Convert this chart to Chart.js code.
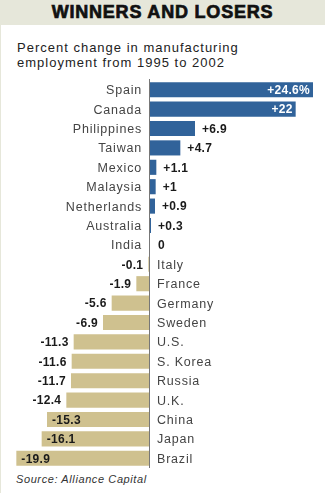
<!DOCTYPE html>
<html>
<head>
<meta charset="utf-8">
<script src="https://cdn.jsdelivr.net/npm/chart.js@4"></script>
<style>
html, body { margin: 0; padding: 0; background: #fff; }
body { width: 325px; height: 493px; position: relative; overflow: hidden; font-family: "Liberation Sans", Arial, sans-serif; }
#band { position: absolute; left: 0; top: 0; width: 325px; height: 25px; background: #e6e7da; }
#title { position: absolute; left: 0; top: 2px; width: 325px; text-align: center; font-size: 18px; font-weight: bold; color: #111; letter-spacing: 0.8px; -webkit-text-stroke: 0.7px #111; }
#edge { position: absolute; left: 0; top: 25px; width: 1px; height: 468px; background: #e6e7da; }
#sub { position: absolute; left: 17px; top: 40px; font-size: 13px; line-height: 15px; color: #222; letter-spacing: 1px; }
#src { position: absolute; left: 16px; top: 473px; font-size: 11px; font-style: italic; color: #333; letter-spacing: 0.6px; }
#wrap { position: absolute; left: 0; top: 0; width: 325px; height: 493px; }
</style>
</head>
<body>
<div id="band"></div>
<div id="title">WINNERS AND LOSERS</div>
<div id="edge"></div>
<div id="sub">Percent change in manufacturing<br>employment from 1995 to 2002</div>
<div id="src">Source: Alliance Capital</div>
<div id="wrap"><canvas id="barChart"></canvas></div>
<script>
var countries = ["Spain", "Canada", "Philippines", "Taiwan", "Mexico", "Malaysia", "Netherlands", "Australia", "India",
	"Italy", "France", "Germany", "Sweden", "U.S.", "S. Korea", "Russia", "U.K.", "China", "Japan", "Brazil"];
var changes = [24.6, 22, 6.9, 4.7, 1.1, 1, 0.9, 0.3, 0,
	-0.1, -1.9, -5.6, -6.9, -11.3, -11.6, -11.7, -12.4, -15.3, -16.1, -19.9];
var valueLabels = ["+24.6%", "+22", "+6.9", "+4.7", "+1.1", "+1", "+0.9", "+0.3", "0",
	"-0.1", "-1.9", "-5.6", "-6.9", "-11.3", "-11.6", "-11.7", "-12.4", "-15.3", "-16.1", "-19.9"];

var blue = '#31639a', tan = '#cfc18f';

// labels drawn beside the zero line, plus the value labels
var labelPlugin = {
	id: 'labels',
	afterDatasetsDraw: function(chart) {
		var c = chart.ctx, xs = chart.scales.x, ys = chart.scales.y;
		var x0 = xs.getPixelForValue(0);
		c.save();
		c.strokeStyle = '#777';
		c.lineWidth = 1;
		c.beginPath();
		c.moveTo(Math.round(x0) + 0.5, chart.chartArea.top - 1);
		c.lineTo(Math.round(x0) + 0.5, chart.chartArea.bottom);
		c.stroke();
		c.textBaseline = 'middle';
		for (var i = 0; i < countries.length; i++) {
			var v = changes[i], y = ys.getPixelForValue(i) + 1, xe = xs.getPixelForValue(v);
			c.font = '12.5px "Liberation Sans", Arial, sans-serif';
			c.letterSpacing = '0.8px';
			c.fillStyle = '#444';
			if (v >= 0) { c.textAlign = 'right'; c.fillText(countries[i], x0 - 7, y); }
			else { c.textAlign = 'left'; c.fillText(countries[i], x0 + 8, y); }
			c.font = 'bold 12px "Liberation Sans", Arial, sans-serif';
			c.letterSpacing = '0.3px';
			c.fillStyle = '#1a1a1a';
			if (v > 15) { c.fillStyle = '#fff'; c.textAlign = 'right'; c.fillText(valueLabels[i], xe - 3, y); }
			else if (v >= 0) { c.textAlign = 'left'; c.fillText(valueLabels[i], Math.max(xe, x0 + 2) + 7, y); }
			else if (v > -15) { c.textAlign = 'right'; c.fillText(valueLabels[i], xe - 5, y); }
			else { c.textAlign = 'left'; c.fillText(valueLabels[i], xe + 5, y); }
		}
		c.restore();
	}
};

var ctx = document.getElementById("barChart").getContext("2d");
var myChart = new Chart(ctx, {
	type: 'bar',
	data: {
		labels: countries,
		datasets: [{
			data: changes,
			backgroundColor: changes.map(function(v) { return v >= 0 ? blue : tan; }),
			borderWidth: 0,
			barPercentage: 0.78,
			categoryPercentage: 1
		}]
	},
	options: {
		indexAxis: 'y',
		responsive: true,
		maintainAspectRatio: false,
		animation: false,
		layout: { padding: { left: 8, right: 7, top: 80, bottom: 25 } },
		plugins: { legend: { display: false }, tooltip: { enabled: false } },
		scales: {
			x: { display: false, min: -21.15, max: 25.35 },
			y: { display: false }
		}
	},
	plugins: [labelPlugin]
});
</script>
</body>
</html>
